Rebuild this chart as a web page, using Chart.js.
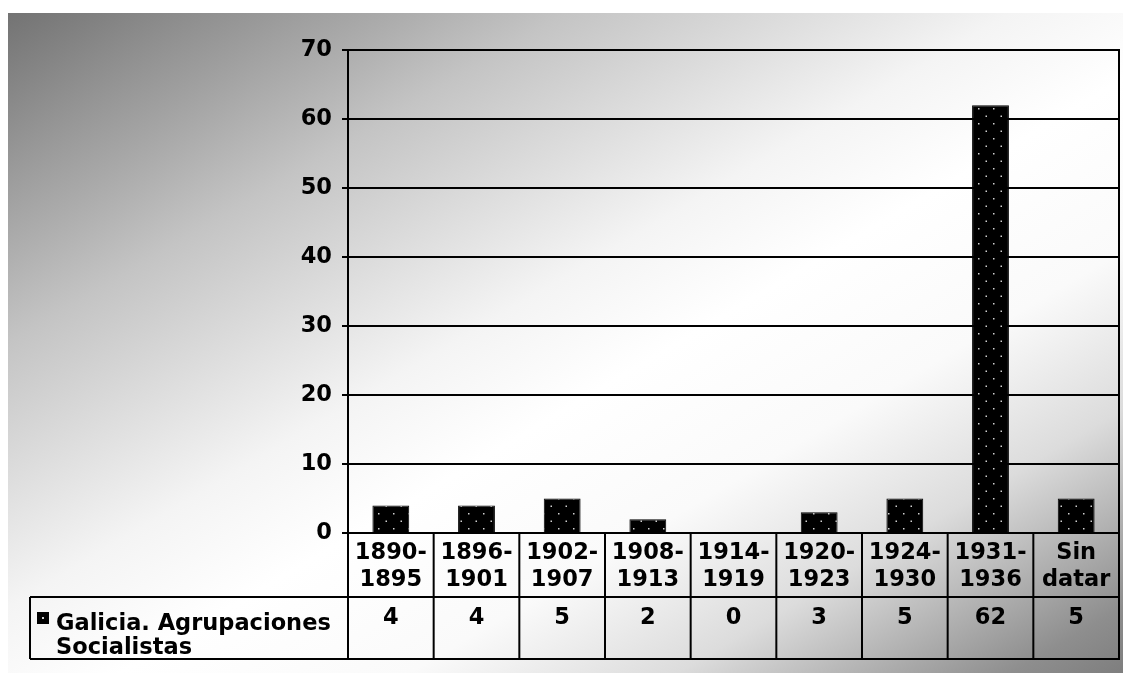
<!DOCTYPE html>
<html>
<head>
    <title>Galicia. Agrupaciones Socialistas</title>
    <script src="https://cdn.jsdelivr.net/npm/chart.js"></script>
    <style>
        body { margin: 0; background: #fff; }
        .frame {
            position: absolute; left: 8px; top: 13px; width: 1115px; height: 660px;
            background: linear-gradient(to bottom right,
                #737373 0%, #c4c4c4 25%, #f4f4f4 45%, #ffffff 55%, #fafafa 68%,
                #dcdcdc 80%, #a8a8a8 90%, #8e8e8e 95%, #7e7e7e 100%);
        }
        .holder { position: absolute; left: 0; top: 0; width: 1123px; height: 673px; }
    </style>
</head>
<body>
<div class="frame"></div>
<div class="holder"><canvas id="chart"></canvas></div>
<script>
    const periods = [
        ['1890-', '1895'], ['1896-', '1901'], ['1902-', '1907'], ['1908-', '1913'],
        ['1914-', '1919'], ['1920-', '1923'], ['1924-', '1930'], ['1931-', '1936'],
        ['Sin', 'datar']
    ];
    const seriesName = ['Galicia. Agrupaciones', 'Socialistas'];
    const counts = [4, 4, 5, 2, 0, 3, 5, 62, 5];
    const yMax = 70;
    const yStep = 10;

    const font = { family: 'DejaVu Sans', weight: 'bold', size: 22.5 };

    // black with light dots, like the old office fill
    function dotPattern() {
        let c = document.createElement('canvas');
        c.width = 15; c.height = 15;
        let g = c.getContext('2d');
        g.fillStyle = '#000';
        g.fillRect(0, 0, 15, 15);
        g.fillStyle = '#d0d0d0';
        g.fillRect(3, 3, 1.5, 1.5);
        g.fillRect(10.5, 10.5, 1.5, 1.5);
        return g.createPattern(c, 'repeat');
    }

    // table under the x axis: row of values, legend cell and borders
    const dataTable = {
        id: 'dataTable',
        afterDraw(chart) {
            let ctx = chart.ctx;
            let a = chart.chartArea;
            let x = chart.scales.x;
            let mid = a.bottom + 64;
            let bot = x.bottom;
            let legendLeft = 30;
            let w = (a.right - a.left) / counts.length;

            ctx.save();
            ctx.strokeStyle = '#000';
            ctx.lineWidth = 2;
            ctx.beginPath();
            ctx.moveTo(legendLeft, mid); ctx.lineTo(a.right, mid);
            ctx.moveTo(legendLeft, bot); ctx.lineTo(a.right, bot);
            ctx.moveTo(legendLeft, mid); ctx.lineTo(legendLeft, bot);
            for (let i = 0; i < counts.length; i++) {
                let bx = a.left + i * w;
                ctx.moveTo(bx, a.bottom); ctx.lineTo(bx, bot);
            }
            ctx.moveTo(a.right, a.top - 1); ctx.lineTo(a.right, bot + 1);
            ctx.stroke();

            ctx.fillStyle = '#000';
            ctx.font = 'bold 22.5px "DejaVu Sans"';
            ctx.textAlign = 'center';
            ctx.textBaseline = 'middle';
            counts.forEach((v, i) => {
                ctx.fillText(String(v), x.getPixelForValue(i), mid + 21);
            });

            // legend key
            ctx.fillRect(37, 612, 12, 12);
            ctx.fillStyle = '#d0d0d0';
            ctx.fillRect(42, 617, 2, 2);
            ctx.fillStyle = '#000';
            ctx.textAlign = 'left';
            ctx.fillText(seriesName[0], 56, mid + 27);
            ctx.fillText(seriesName[1], 56, mid + 51);
            ctx.restore();
        }
    };

    let ctx = document.getElementById('chart').getContext('2d');
    new Chart(ctx, {
        type: 'bar',
        data: {
            labels: periods,
            datasets: [{
                label: seriesName.join(' '),
                data: counts,
                backgroundColor: dotPattern(),
                borderColor: '#000',
                borderWidth: 1,
                categoryPercentage: 1,
                barPercentage: 0.43
            }]
        },
        options: {
            responsive: true,
            maintainAspectRatio: false,
            animation: false,
            layout: { padding: { left: 0, top: 50, right: 4, bottom: 14 } },
            plugins: {
                legend: { display: false },
                tooltip: { enabled: false }
            },
            scales: {
                x: {
                    grid: { display: false, drawTicks: false },
                    border: { display: false },
                    ticks: { color: '#000', font: { ...font, lineHeight: 1.2 }, padding: 7, maxRotation: 0, autoSkip: false },
                    afterFit(scale) { scale.height = 126; }
                },
                y: {
                    min: 0,
                    max: yMax,
                    grid: { color: '#000', lineWidth: 2, tickLength: 6 },
                    border: { color: '#000', width: 2 },
                    ticks: { color: '#000', font: font, stepSize: yStep, padding: 10 },
                    afterFit(scale) { scale.width = 348; }
                }
            }
        },
        plugins: [dataTable]
    });
</script>
</body>
</html>
